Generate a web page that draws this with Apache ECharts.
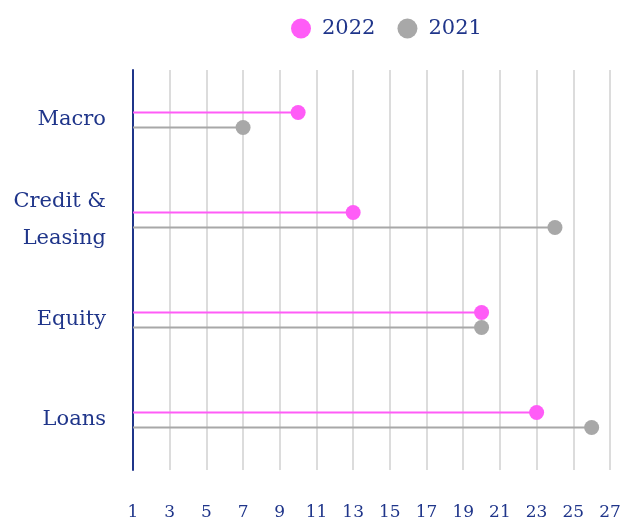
<!DOCTYPE html>
<html>
<head>
<meta charset="utf-8">
<script src="https://cdn.jsdelivr.net/npm/echarts@6/dist/echarts.min.js"></script>
<style>
  html, body { margin: 0; padding: 0; background: #fff; }
  #chart { width: 624px; height: 524px; }
</style>
</head>
<body>
<div id="chart"></div>
<script>
const categories = ['Macro', 'Credit &\nLeasing', 'Equity', 'Loans'];
const values2022 = [10, 13, 20, 23];
const values2021 = [7, 24, 20, 26];

const navy = '#1f358a';
const pink = '#ff5cf7';
const grey = '#a8a8a8';
const font = 'DejaVu Serif';

const myChart = echarts.init(document.querySelector('#chart'));

const option = {
  animation: false,
  legend: {
    top: 13,
    left: 286,
    itemWidth: 20,
    itemHeight: 20,
    itemGap: 22,
    textStyle: {
      color: navy,
      fontFamily: font,
      fontSize: 21,
      padding: [0, 0, 0, 6]
    },
    data: [
      { name: '2022', icon: 'circle' },
      { name: '2021', icon: 'circle' }
    ]
  },
  grid: {
    left: 133,
    right: 14,
    top: 70,
    bottom: 54
  },
  xAxis: {
    type: 'value',
    min: 1,
    max: 27,
    interval: 2,
    axisLine: { show: false },
    axisTick: { show: false },
    splitLine: { lineStyle: { color: '#dcdcdc', width: 2 } },
    axisLabel: {
      color: navy,
      fontFamily: font,
      fontSize: 17,
      margin: 34
    }
  },
  yAxis: {
    type: 'category',
    inverse: true,
    data: categories,
    axisLine: { lineStyle: { color: navy, width: 2 } },
    axisTick: { show: false },
    axisLabel: {
      color: navy,
      fontFamily: font,
      fontSize: 21,
      lineHeight: 37,
      margin: 27
    }
  },
  series: [
    {
      name: '2022',
      type: 'bar',
      data: values2022,
      barWidth: 2,
      barGap: '650%',
      itemStyle: { color: pink }
    },
    {
      name: '2021',
      type: 'bar',
      data: values2021,
      barWidth: 2,
      itemStyle: { color: grey }
    },
    {
      name: '2022',
      type: 'scatter',
      data: values2022,
      symbolSize: 15,
      symbolOffset: [0, -7.5],
      itemStyle: { color: pink, opacity: 1 }
    },
    {
      name: '2021',
      type: 'scatter',
      data: values2021,
      symbolSize: 15,
      symbolOffset: [0, 7.5],
      itemStyle: { color: grey, opacity: 1 }
    }
  ]
};

myChart.setOption(option);

window.addEventListener('resize', function() {
  myChart.resize();
});
</script>
</body>
</html>
